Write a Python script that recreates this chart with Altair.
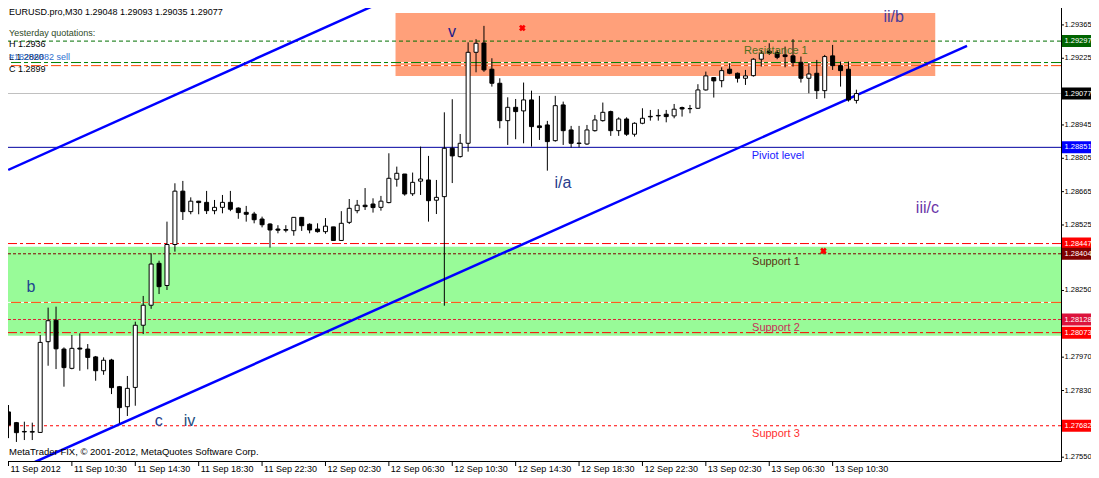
import altair as alt
import pandas as pd

# ---------------- data ----------------
opens = [1.27740, 1.27695, 1.27658, 1.27655, 1.27654, 1.28035, 1.28125, 1.28004, 1.27923, 1.28008,
         1.28004, 1.27971, 1.27913, 1.27958, 1.27846, 1.27762, 1.27843, 1.28104, 1.28188, 1.28364,
         1.28271, 1.28443, 1.28667, 1.28581, 1.28625, 1.28620, 1.28585, 1.28599, 1.28620, 1.28596,
         1.28578, 1.28571, 1.28550, 1.28529, 1.28508, 1.28506, 1.28501, 1.28557, 1.28528, 1.28508,
         1.28497, 1.28517, 1.28460, 1.28536, 1.28585, 1.28608, 1.28613, 1.28599, 1.28619, 1.28717,
         1.28739, 1.28656, 1.28709, 1.28714, 1.28629, 1.28644, 1.28847, 1.28812, 1.28868, 1.29250,
         1.29289, 1.29179, 1.29120, 1.28963, 1.29019, 1.29004, 1.29050, 1.28941, 1.28945, 1.28879,
         1.29029, 1.28924, 1.28869, 1.28865, 1.28921, 1.28963, 1.29001, 1.28921, 1.28970, 1.28906,
         1.28952, 1.28981, 1.28985, 1.28990, 1.28983, 1.29018, 1.29014, 1.29015, 1.29092, 1.29144,
         1.29131, 1.29179, 1.29162, 1.29141, 1.29152, 1.29221, 1.29255, 1.29249, 1.29239, 1.29235,
         1.29208, 1.29141, 1.29162, 1.29089, 1.29235, 1.29194, 1.29179, 1.29048]
highs = [1.27769, 1.27698, 1.27699, 1.27695, 1.28063, 1.28178, 1.28182, 1.28011, 1.28063, 1.28070,
         1.28025, 1.27975, 1.27969, 1.27963, 1.27849, 1.27891, 1.28119, 1.28227, 1.28406, 1.28375,
         1.28539, 1.28700, 1.28710, 1.28641, 1.28626, 1.28668, 1.28630, 1.28651, 1.28668, 1.28599,
         1.28605, 1.28580, 1.28560, 1.28532, 1.28524, 1.28524, 1.28557, 1.28557, 1.28532, 1.28532,
         1.28554, 1.28517, 1.28583, 1.28634, 1.28630, 1.28680, 1.28637, 1.28647, 1.28826, 1.28770,
         1.28739, 1.28745, 1.28854, 1.28815, 1.28714, 1.28998, 1.29053, 1.28907, 1.29292, 1.29305,
         1.29361, 1.29225, 1.29141, 1.29061, 1.29054, 1.29123, 1.29089, 1.29067, 1.28962, 1.29067,
         1.29043, 1.28941, 1.28941, 1.28945, 1.28987, 1.29039, 1.29005, 1.28977, 1.28977, 1.28956,
         1.29015, 1.29008, 1.29011, 1.29008, 1.29033, 1.29022, 1.29029, 1.29116, 1.29169, 1.29144,
         1.29187, 1.29204, 1.29165, 1.29176, 1.29225, 1.29260, 1.29288, 1.29260, 1.29274, 1.29305,
         1.29232, 1.29204, 1.29218, 1.29239, 1.29281, 1.29211, 1.29211, 1.29093]
lows = [1.27630, 1.27614, 1.27622, 1.27622, 1.27652, 1.27934, 1.27920, 1.27846, 1.27919, 1.27913,
        1.27919, 1.27871, 1.27896, 1.27815, 1.27692, 1.27723, 1.27766, 1.28067, 1.28173, 1.28235,
        1.28252, 1.28413, 1.28546, 1.28570, 1.28570, 1.28571, 1.28570, 1.28574, 1.28583, 1.28551,
        1.28539, 1.28532, 1.28515, 1.28430, 1.28490, 1.28494, 1.28480, 1.28500, 1.28490, 1.28493,
        1.28488, 1.28460, 1.28460, 1.28529, 1.28574, 1.28588, 1.28577, 1.28585, 1.28616, 1.28686,
        1.28648, 1.28647, 1.28651, 1.28539, 1.28571, 1.28186, 1.28701, 1.28808, 1.28833, 1.29166,
        1.29168, 1.29106, 1.28931, 1.28861, 1.28885, 1.28868, 1.28854, 1.28882, 1.28753, 1.28875,
        1.28861, 1.28850, 1.28851, 1.28861, 1.28917, 1.28959, 1.28899, 1.28899, 1.28899, 1.28896,
        1.28948, 1.28963, 1.28963, 1.28956, 1.28973, 1.28980, 1.28994, 1.29012, 1.29089, 1.29060,
        1.29103, 1.29158, 1.29123, 1.29113, 1.29148, 1.29190, 1.29239, 1.29221, 1.29187, 1.29190,
        1.29123, 1.29078, 1.29054, 1.29057, 1.29176, 1.29106, 1.29043, 1.29035]
closes = [1.27685, 1.27653, 1.27656, 1.27658, 1.28032, 1.28123, 1.28005, 1.27926, 1.28007, 1.28004,
          1.27969, 1.27913, 1.27957, 1.27842, 1.27758, 1.27839, 1.28104, 1.28188, 1.28361, 1.28266,
          1.28443, 1.28667, 1.28581, 1.28625, 1.28619, 1.28585, 1.28599, 1.28620, 1.28591, 1.28577,
          1.28570, 1.28547, 1.28526, 1.28504, 1.28503, 1.28503, 1.28557, 1.28522, 1.28504, 1.28497,
          1.28520, 1.28460, 1.28532, 1.28595, 1.28608, 1.28602, 1.28598, 1.28625, 1.28721, 1.28742,
          1.28655, 1.28704, 1.28718, 1.28627, 1.28641, 1.28847, 1.28815, 1.28868, 1.29250, 1.29288,
          1.29176, 1.29120, 1.28963, 1.29019, 1.29001, 1.29050, 1.28938, 1.28934, 1.28875, 1.29026,
          1.28921, 1.28868, 1.28867, 1.28924, 1.28966, 1.28998, 1.28921, 1.28970, 1.28906, 1.28952,
          1.28973, 1.28979, 1.28983, 1.28980, 1.29011, 1.29012, 1.29013, 1.29092, 1.29151, 1.29130,
          1.29173, 1.29162, 1.29141, 1.29151, 1.29221, 1.29246, 1.29246, 1.29229, 1.29232, 1.29208,
          1.29141, 1.29159, 1.29089, 1.29232, 1.29194, 1.29173, 1.29050, 1.29077]

x_tick_index = [0, 8, 16, 24, 32, 40, 48, 56, 64, 72, 80, 88, 96, 104]
x_tick_labels = ["11 Sep 2012", "11 Sep 10:30", "11 Sep 14:30", "11 Sep 18:30", "11 Sep 22:30",
                 "12 Sep 02:30", "12 Sep 06:30", "12 Sep 10:30", "12 Sep 14:30", "12 Sep 18:30",
                 "12 Sep 22:30", "13 Sep 02:30", "13 Sep 06:30", "13 Sep 10:30"]
y_tick_values = [1.29365, 1.29225, 1.29085, 1.28945, 1.28805, 1.28665, 1.28525, 1.28385,
                 1.28250, 1.28110, 1.27970, 1.27830, 1.27690, 1.27550]
# tick labels that stay visible (the others sit under the coloured price boxes)
y_label_values = [1.29365, 1.29225, 1.28945, 1.28805, 1.28665, 1.28525,
                  1.28250, 1.27970, 1.27830, 1.27550]

# level prices
resistance_1 = 1.29297
upper_green = 1.29207
upper_orange = 1.29194
bid_price = 1.29077
pivot = 1.28851
red_top = 1.28447
support_1 = 1.28404
yesterday_low = 1.28200
support_2 = 1.28128
red_bottom = 1.28073
support_3 = 1.27682

# zones (bar index range, price range)
resist_zone_i = [48.84, 116.95]
resist_zone_p = [1.29151, 1.29415]
support_zone_i = [-2.0, 140.0]
support_zone_p = [1.28060, 1.28434]

# trend lines (bar index, price)
lower_line_i = [3.34, 120.96]
lower_line_p = [1.27530, 1.29277]
upper_line_i = [-0.04, 46.84]
upper_line_p = [1.28756, 1.29457]

wave_text = ["v", "i/a", "ii/b", "iii/c", "b", "c", "iv"]
wave_i = [55.96, 69.96, 111.71, 115.96, 2.84, 18.96, 22.84]
wave_p = [1.29336, 1.28701, 1.29399, 1.28596, 1.28265, 1.27702, 1.27702]

level_text = ["Resistance 1", "Piviot level", "Support 1", "Support 2", "Support 3"]
level_text_i = [96.84, 97.1, 96.84, 96.84, 96.84]
level_text_p = [1.29257, 1.28815, 1.28370, 1.28092, 1.27647]

cross_i = [64.84, 102.84]
cross_p = [1.29352, 1.28416]

box_prices = [1.29297, 1.29077, 1.28851, 1.28447, 1.28404, 1.28128, 1.28073, 1.27682]

header_title = "EURUSD.pro,M30  1.29048 1.29093 1.29035 1.29077"
header_lines = ["Yesterday quotations:", "H 1.2936", "L 1.2820", "C 1.2899"]
order_text = "#18206882 sell"
copyright_text = "MetaTrader FIX, \u00a9 2001-2012, MetaQuotes Software Corp."

# ---------------- styling ----------------
FONT = "Liberation Sans"
W, H = 1058, 458
xs = alt.Scale(domain=[-0.0625, 132.1875], nice=False, zero=False)
ys = alt.Scale(domain=[1.27534, 1.29457], nice=False, zero=False)

candles = pd.DataFrame({"i": list(range(len(opens))), "o": opens, "h": highs,
                        "l": lows, "c": closes})


def X(field):
    return alt.X(field, type="quantitative", scale=xs, axis=None)


def Y(field):
    return alt.Y(field, type="quantitative", scale=ys, axis=None)


layers = []

# zones
zones = pd.DataFrame({
    "i1": [support_zone_i[0], resist_zone_i[0]], "i2": [support_zone_i[1], resist_zone_i[1]],
    "p1": [support_zone_p[0], resist_zone_p[0]], "p2": [support_zone_p[1], resist_zone_p[1]],
    "col": ["#98FB98", "#FFA07A"]})
layers.append(alt.Chart(zones).mark_rect(clip=True).encode(
    x=X("i1"), x2="i2", y=Y("p1"), y2="p2", fill=alt.Fill("col:N", scale=None)))


def hline(price, color, dash=None, width=1, white_under=False):
    df = pd.DataFrame({"p": [price]})
    out = []
    if white_under:
        out.append(alt.Chart(df).mark_rule(color="white", strokeWidth=1).encode(y=Y("p")))
    kw = dict(color=color, strokeWidth=width)
    if dash:
        kw["strokeDash"] = dash
    out.append(alt.Chart(df).mark_rule(**kw).encode(y=Y("p")))
    return out


layers += hline(resistance_1, "#007000", [4, 3])
layers += hline(upper_green, "#008000", [10, 3, 4, 3], white_under=True)
layers += hline(upper_orange, "#FF4500", [10, 3, 4, 3], white_under=True)
layers += hline(bid_price, "#C0C0C0")
layers += hline(pivot, "#0000A0")
layers += hline(red_top, "#FF0000", [9, 3, 3, 3])
layers += hline(support_1, "#800000", [3, 2])
layers += hline(yesterday_low, "#FF4500", [10, 3, 4, 3], white_under=True)
layers += hline(support_2, "#E0203A", [3, 2])
layers += hline(red_bottom, "#FF0000", [9, 3, 3, 3])
layers += hline(support_3, "#FF0000", [3, 3])

# trend lines
tl = pd.DataFrame({"i": lower_line_i + upper_line_i, "p": lower_line_p + upper_line_p,
                   "g": ["a", "a", "b", "b"]})
layers.append(alt.Chart(tl).mark_line(color="#0000FF", strokeWidth=2.5, clip=True).encode(
    x=X("i"), y=Y("p"), detail="g:N"))

# candles
layers.append(alt.Chart(candles).mark_rule(color="black", strokeWidth=1).encode(
    x=X("i"), y=Y("l"), y2="h:Q"))
layers.append(alt.Chart(candles).mark_bar(size=4, stroke="black", strokeWidth=1).encode(
    x=X("i"), y=Y("o"), y2="c:Q",
    fill=alt.condition("datum.c >= datum.o", alt.value("white"), alt.value("black"))))

# wave labels
waves = pd.DataFrame({"i": wave_i, "p": wave_p, "t": wave_text,
                      "col": ["#1A1A8C", "#283C8C", "#4B3C9A", "#6A35A8", "#1E4690", "#1E3C8C", "#1E4E80"]})
layers.append(alt.Chart(waves).mark_text(font=FONT, fontSize=16, baseline="middle", align="center").encode(
    x=X("i"), y=Y("p"), text="t:N", fill=alt.Fill("col:N", scale=None)))

# level labels
lv = pd.DataFrame({"i": level_text_i, "p": level_text_p, "t": level_text,
                   "col": ["#4F6F1F", "#2020FF", "#5A3414", "#C8305A", "#FF3030"]})
layers.append(alt.Chart(lv).mark_text(font=FONT, fontSize=11, baseline="middle", align="center").encode(
    x=X("i"), y=Y("p"), text="t:N", fill=alt.Fill("col:N", scale=None)))

# red crosses
cr = pd.DataFrame({"i": cross_i, "p": cross_p})
layers.append(alt.Chart(cr).mark_point(shape="cross", angle=45, filled=True, color="#FF0000",
                                       size=45, opacity=1).encode(x=X("i"), y=Y("p")))

# header texts
layers.append(alt.Chart(pd.DataFrame({"t": [header_title]})).mark_text(
    font=FONT, fontSize=9, align="left", baseline="middle", color="black").encode(
    x=alt.value(6), y=alt.value(9), text="t:N"))
hdr_y = [30, 41, 54, 66]
hdr_col = ["#2F4A1F", "black", "black", "black"]
for txt, yy, cc in zip(header_lines, hdr_y, hdr_col):
    layers.append(alt.Chart(pd.DataFrame({"t": [txt]})).mark_text(
        font=FONT, fontSize=9, align="left", baseline="middle", color=cc).encode(
        x=alt.value(6), y=alt.value(yy), text="t:N"))
layers.append(alt.Chart(pd.DataFrame({"t": [order_text]})).mark_text(
    font=FONT, fontSize=9, align="left", baseline="middle", color="#2F6FD0").encode(
    x=alt.value(6), y=alt.value(54), text="t:N"))
layers.append(alt.Chart(pd.DataFrame({"t": [copyright_text]})).mark_text(
    font=FONT, fontSize=9.5, align="left", baseline="middle", color="black").encode(
    x=alt.value(6), y=alt.value(449), text="t:N"))

# ---- axes drawn from the tick arrays ----
yt = pd.DataFrame({"v": y_tick_values})
layers.append(alt.Chart(yt).mark_rule(color="black", strokeWidth=1).encode(
    x=alt.value(W), x2=alt.value(W + 3), y=Y("v")))
yl = pd.DataFrame({"v": y_label_values, "t": ["%.5f" % v for v in y_label_values]})
layers.append(alt.Chart(yl).mark_text(font=FONT, fontSize=7.5, align="left", baseline="middle",
                                      color="black").encode(
    x=alt.value(W + 3.5), y=Y("v"), text="t:N"))

xt = pd.DataFrame({"v": x_tick_index, "t": x_tick_labels})
layers.append(alt.Chart(xt).mark_rule(color="black", strokeWidth=1).encode(
    x=X("v"), y=alt.value(H), y2=alt.value(H + 5)))
layers.append(alt.Chart(xt).mark_text(font=FONT, fontSize=9, align="left", baseline="top",
                                      color="black", dx=2).encode(
    x=X("v"), y=alt.value(H + 4), text="t:N"))

# price boxes on right axis
bx = pd.DataFrame({"p": box_prices, "t": ["%.5f" % v for v in box_prices],
                   "col": ["#006400", "#000000", "#0000FF", "#FF0000", "#800000", "#DC143C", "#FF0000", "#FF0000"]})
layers.append(alt.Chart(bx).mark_rect(yOffset=-6, y2Offset=6).encode(
    x=alt.value(W + 1), x2=alt.value(W + 60), y=Y("p"), y2="p:Q",
    fill=alt.Fill("col:N", scale=None)))
layers.append(alt.Chart(bx).mark_text(font=FONT, fontSize=7.5, align="left", baseline="middle",
                                      color="white").encode(
    x=alt.value(W + 3.5), y=Y("p"), text="t:N"))

chart = alt.layer(*layers).properties(
    width=W, height=H,
    autosize=alt.AutoSizeParams(type="none"),
    padding={"left": -5, "top": -5, "right": 30, "bottom": 17},
    background="white",
).configure_view(stroke="black", strokeWidth=1)

chart.save("out.html", embed_options={"renderer": "svg", "actions": False})
